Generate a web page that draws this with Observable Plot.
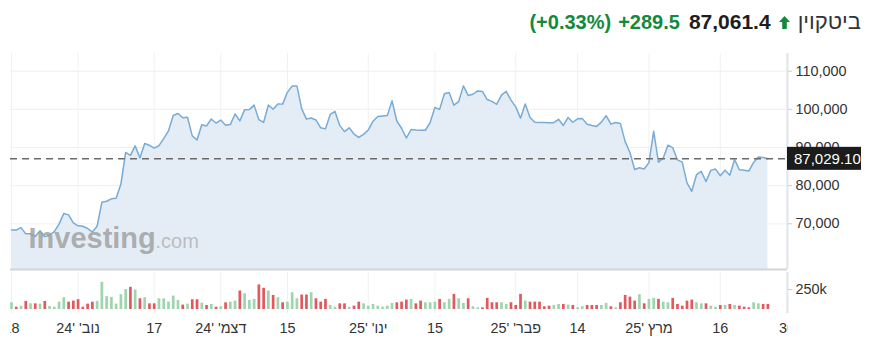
<!DOCTYPE html>
<html>
<head>
<meta charset="utf-8">
<script src="https://cdn.jsdelivr.net/npm/d3@7"></script>
<script src="https://cdn.jsdelivr.net/npm/@observablehq/plot@0.6"></script>
<style>
html,body{margin:0;padding:0;background:#fff;}
body{width:871px;height:338px;overflow:hidden;font-family:"Liberation Sans",Arial,sans-serif;}
#header{position:relative;height:40px;}
#header .row{position:absolute;right:10px;top:11px;height:22px;display:flex;align-items:center;white-space:nowrap;line-height:22px;}
#header .pct,#header .chg{color:#128a3e;font-weight:bold;font-size:20px;}
#header .pct{margin-right:7px;}
#header .chg{margin-right:9px;}
#header .price{color:#1e1e1e;font-weight:bold;font-size:21px;margin-right:8px;}
#header .arrow{margin-right:8px;display:block;}
#header .name{color:#333;font-size:22px;}
#chart svg{display:block;}
</style>
</head>
<body>
<div id="header"></div>
<div id="chart"></div>
<script>
// ---------- data ----------
const assetName = "ביטקוין";
const livePrice = 87061.4;
const changeAbs = 289.5;
const changePct = 0.33;
const lastClose = 87029.10;
const prevClose = 67380; // close before first day (Oct 17)

const startDate = new Date(Date.UTC(2024, 9, 18));
const endDate = new Date(Date.UTC(2025, 2, 27)); // exclusive

const closes = [
  // Oct 18-31
  68400,68360,69000,67370,67380,66680,68160,66640,67020,67930,69910,72720,72340,70220,
  // Nov
  69480,69360,68770,67830,69370,75640,75900,76540,76680,80410,88700,87950,90420,87270,91060,
  90580,89850,90470,92340,94340,98400,98900,97800,97920,93060,91960,95960,95650,97460,96410,
  // Dec
  97190,95860,96000,98770,96980,99870,99940,101110,97300,96590,101130,100040,101420,101370,104460,
  106100,106130,100200,97440,97750,97220,95150,94880,98670,99440,95790,94160,95160,93530,92640,93430,
  // Jan
  94580,96890,98110,98230,98360,102240,96950,95040,92480,94700,94570,94490,94520,96530,100500,
  99990,104080,104410,101090,102020,106150,103650,103960,104820,104710,102580,102080,101330,103730,104730,102410,
  // Feb
  100650,97690,101400,97870,96620,96560,96530,96480,96500,97400,95770,97870,96620,97510,
  97570,96120,95770,95530,96650,98330,96130,96550,96270,91550,88700,84250,84700,84370,
  // Mar
  86030,94260,86120,87220,90620,89960,86740,86150,80730,78530,82860,83720,81070,
  84000,84340,82580,84060,82710,86850,84170,84040,83830,86080,87500,87380,87029.1
];

// volume in thousands
const volumes = [
  84,29,42,101,71,71,67,101,38,29,92,147,92,105,122,29,67,92,101,340,160,151,67,185,248,277,244,134,147,71,71,134,134,92,168,113,55,67,122,122,80,
  50,63,29,34,84,92,105,231,197,113,126,307,265,231,176,147,84,92,210,134,181,181,210,134,92,126,50,29,71,71,29,42,92,71,42,63,42,29,42,76,
  84,92,118,126,71,105,84,84,92,126,84,126,189,134,76,134,34,21,21,139,84,84,84,63,84,50,189,105,92,92,92,34,42,50,63,63,55,50,21,34,50,
  50,50,50,76,34,21,84,176,155,105,185,71,126,139,126,92,84,139,63,42,105,118,84,71,71,42,29,50,50,63,50,42,29,21,84,71,63,63
];

const tickDates = [
  new Date(Date.UTC(2024, 9, 18)),
  new Date(Date.UTC(2024, 10, 1)),
  new Date(Date.UTC(2024, 10, 17)),
  new Date(Date.UTC(2024, 11, 1)),
  new Date(Date.UTC(2024, 11, 15)),
  new Date(Date.UTC(2025, 0, 1)),
  new Date(Date.UTC(2025, 0, 15)),
  new Date(Date.UTC(2025, 1, 1)),
  new Date(Date.UTC(2025, 1, 14)),
  new Date(Date.UTC(2025, 2, 1)),
  new Date(Date.UTC(2025, 2, 16)),
  new Date(Date.UTC(2025, 2, 30))
];
const tickLabels = ["18","נוב' '24","17","דצמ' '24","15","ינו' '25","15","פבר' '25","14","מרץ '25","16","30"];

const yTicks = [70000, 80000, 90000, 100000, 110000];
const volTicks = [250];

// scale settings
const xDomain = [new Date(Date.UTC(2024, 9, 17, 19)), new Date(Date.UTC(2025, 2, 30, 3))];
const yDomain = [58021, 114640];
const volDomain = [0, 462.5];

// ---------- header ----------
const fmt1 = d3.format(",.1f");
const header = document.getElementById("header");
header.innerHTML = `<div class="row">
  <span class="pct">(+${changePct.toFixed(2)}%)</span>
  <span class="chg">+${fmt1(changeAbs)}</span>
  <span class="price">${fmt1(livePrice)}</span>
  <svg class="arrow" width="11" height="13" viewBox="0 0 11 13"><polygon points="5.5,0 11,6 7.8,6 7.8,13 3.2,13 3.2,6 0,6" fill="#128a3e"/></svg>
  <span class="name">${assetName}</span>
</div>`;

// ---------- chart data table ----------
const dates = d3.utcDays(startDate, endDate);
const rows = dates.map((date, i) => ({
  date,
  close: closes[i],
  vol: volumes[i],
  up: closes[i] >= (i ? closes[i - 1] : prevClose)
}));

const labelByTime = new Map(tickDates.map((d, i) => [+d, tickLabels[i]]));

const W = 871, mL = 10, mR = 84;
const font = {fontFamily: "'Liberation Sans', Arial, sans-serif", fontSize: "14.4px", color: "#333", background: "#fff"};

function priceTag(index, scales, values, dimensions) {
  const y = scales.y(lastClose);
  const x = dimensions.width - dimensions.marginRight;
  const g = d3.create("svg:g");
  g.append("rect").attr("x", x).attr("y", y - 11.5).attr("width", 74).attr("height", 23).attr("fill", "#1c1c1c");
  g.append("text").attr("x", x + 7).attr("y", y).attr("dy", "0.36em")
    .attr("text-anchor", "start")
    .attr("fill", "#fff").attr("font-size", 15).attr("font-family", "'Liberation Sans', Arial, sans-serif")
    .text(d3.format(",.2f")(lastClose));
  return g.node();
}

const pricePlot = Plot.plot({
  width: W, height: 232,
  marginLeft: mL, marginRight: mR, marginTop: 13, marginBottom: 3,
  style: font,
  x: {type: "utc", domain: xDomain, axis: null},
  y: {domain: yDomain, axis: null},
  marks: [
    Plot.gridY(yTicks, {stroke: "#efefef", strokeOpacity: 1}),
    Plot.gridX(tickDates, {stroke: "#eef1f4", strokeOpacity: 1}),
    Plot.areaY(rows, {x: "date", y1: () => yDomain[0], y2: "close", fill: "#e4edf5"}),
    Plot.lineY(rows, {x: "date", y: "close", stroke: "#78acd7", strokeWidth: 1.5}),
    Plot.text(["Investing"], {text: d => d, frameAnchor: "bottom-left", textAnchor: "start", lineAnchor: "bottom",
      dx: 18, dy: -22, fontSize: 29, fontWeight: "bold", fill: "#9c9c9c", fillOpacity: 0.8}),
    Plot.text([".com"], {text: d => d, frameAnchor: "bottom-left", textAnchor: "start", lineAnchor: "bottom",
      dx: 145, dy: -22, fontSize: 20, fill: "#b0b0b0", fillOpacity: 0.8}),
    Plot.ruleY([yDomain[0]], {stroke: "#d4d4d4", strokeWidth: 2}),
    Plot.ruleX([xDomain[1]], {stroke: "#e2e6ec", strokeWidth: 2}),
    Plot.ruleY([lastClose], {stroke: "#6a6a6a", strokeWidth: 1.5, strokeDasharray: "7,5"}),
    Plot.axisY(yTicks, {anchor: "right", label: null, tickSize: 4, tickPadding: 4, tickFormat: d3.format(","),
      stroke: "#c9ced6", fill: "#333", fontSize: 14.4}),
    priceTag
  ]
});

const volPlot = Plot.plot({
  width: W, height: 66,
  marginLeft: mL, marginRight: mR, marginTop: 0, marginBottom: 29,
  style: font,
  x: {type: "utc", domain: xDomain, axis: null},
  y: {domain: volDomain, axis: null},
  marks: [
    Plot.gridX(tickDates, {stroke: "#eef1f4", strokeOpacity: 1}),
    Plot.ruleX(rows, {x: "date", y: "vol", stroke: d => d.up ? "#9fd5ae" : "#e2585d", strokeWidth: 2.7}),
    Plot.ruleX([xDomain[1]], {stroke: "#e2e6ec", strokeWidth: 2, insetBottom: -4}),
    Plot.axisY(volTicks, {anchor: "right", label: null, tickSize: 4, tickPadding: 4, tickFormat: d => d + "k",
      stroke: "#c9ced6", fill: "#333", fontSize: 14.4}),
    Plot.axisX(tickDates, {anchor: "bottom", label: null, tickSize: 4, tickPadding: 9,
      tickFormat: d => labelByTime.get(+d), stroke: "#e6e9ee", fill: "#333", fontSize: 14.4})
  ]
});

// clip x tick labels to the plotting band (first/last labels are cut at the edges)
const vs = d3.select(volPlot);
vs.insert("defs", ":first-child").append("clipPath").attr("id", "xlabclip")
  .append("rect").attr("x", mL).attr("y", 0).attr("width", W - mL - mR).attr("height", 66);
vs.selectAll('g[aria-label="x-axis tick label"]').attr("clip-path", "url(#xlabclip)");

const chart = document.getElementById("chart");
chart.appendChild(pricePlot);
chart.appendChild(volPlot);
</script>
</body>
</html>
